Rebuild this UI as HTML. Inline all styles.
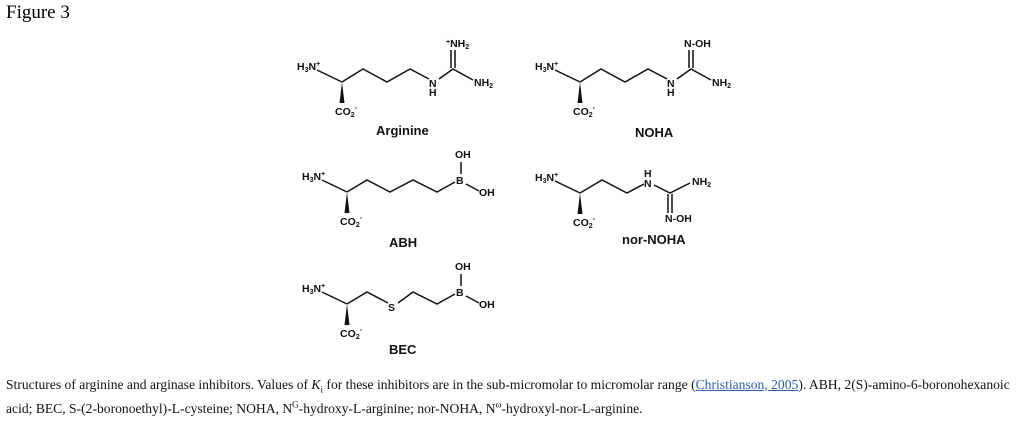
<!DOCTYPE html>
<html><head><meta charset="utf-8"><style>
body{margin:0;background:#fff;width:1024px;height:434px;overflow:hidden;position:relative;font-family:"Liberation Serif",serif;}
.t{position:absolute;left:6px;top:2px;font-size:19px;}
.c{position:absolute;left:6px;top:373px;font-size:13.6px;line-height:24px;color:#111;white-space:nowrap;}
.c sup,.c sub{font-size:9px;line-height:0;}
a{color:#2a5db0;text-decoration:underline;}
svg{position:absolute;left:0;top:0;}
svg text{font-family:"Liberation Sans",sans-serif;font-weight:bold;fill:#111;}
.a{font-size:10.5px;}
.l{font-size:13px;}
line,polyline{stroke:#111;stroke-width:1.5;fill:none;}
</style></head><body>
<div class="t">Figure 3</div>
<svg width="1024" height="434">
<defs>
<g id="head">
<text class="a" x="-45" y="-12">H<tspan font-size="7" dy="2">3</tspan><tspan dy="-2">N</tspan><tspan font-size="7" dy="-4">+</tspan></text>
<line x1="-25" y1="-12" x2="0" y2="0"/>
<polygon points="0,0 -2.5,21 2.5,21" fill="#111"/>
<text class="a" x="-7" y="33">CO<tspan font-size="7" dy="2">2</tspan><tspan font-size="7" dy="-7">-</tspan></text>
</g>
</defs>
<g transform="translate(342,82)">
<use href="#head"/>
<polyline points="0,0 21,-13 45,0 68,-13 87,-3"/>
<text class="a" x="87" y="5">N</text><text class="a" x="87" y="14">H</text>
<polyline points="97,-3 111,-13 131,-2"/>
<line x1="109" y1="-14" x2="109" y2="-32"/><line x1="113" y1="-14" x2="113" y2="-32"/>
<text class="a" x="104" y="-35"><tspan font-size="7" dy="-3">+</tspan><tspan dy="3">NH</tspan><tspan font-size="7" dy="2">2</tspan></text>
<text class="a" x="132" y="4">NH<tspan font-size="7" dy="2">2</tspan></text>
</g>
<text class="l" x="376" y="135">Arginine</text>
<g transform="translate(580,82)">
<use href="#head"/>
<polyline points="0,0 21,-13 45,0 68,-13 87,-3"/>
<text class="a" x="87" y="5">N</text><text class="a" x="87" y="14">H</text>
<polyline points="97,-3 111,-13 131,-2"/>
<line x1="109" y1="-14" x2="109" y2="-32"/><line x1="113" y1="-14" x2="113" y2="-32"/>
<text class="a" x="104" y="-35">N-OH</text>
<text class="a" x="132" y="4">NH<tspan font-size="7" dy="2">2</tspan></text>
</g>
<text class="l" x="635" y="137">NOHA</text>
<g transform="translate(347,192)">
<use href="#head"/>
<polyline points="0,0 20,-12 43,0 66,-12 90,0 108,-10"/>
<text class="a" x="109" y="-8">B</text>
<line x1="114" y1="-18" x2="114" y2="-30"/>
<text class="a" x="108" y="-34">OH</text>
<line x1="119" y1="-8" x2="132" y2="-1"/>
<text class="a" x="132" y="4">OH</text>
</g>
<text class="l" x="389" y="247">ABH</text>
<g transform="translate(347,304)">
<use href="#head"/>
<polyline points="0,0 20,-12 41,-1"/>
<text class="a" x="41" y="7">S</text>
<polyline points="51,-1 66,-12 90,0 108,-10"/>
<text class="a" x="109" y="-8">B</text>
<line x1="114" y1="-18" x2="114" y2="-30"/>
<text class="a" x="108" y="-34">OH</text>
<line x1="119" y1="-8" x2="132" y2="-1"/>
<text class="a" x="132" y="4">OH</text>
</g>
<text class="l" x="389" y="354">BEC</text>
<g transform="translate(580,193)">
<use href="#head"/>
<polyline points="0,0 22,-13 47,0 64,-9"/>
<text class="a" x="64" y="-6">N</text><text class="a" x="64" y="-16">H</text>
<polyline points="74,-8 90,0 110,-10"/>
<text class="a" x="112" y="-8">NH<tspan font-size="7" dy="2">2</tspan></text>
<line x1="88" y1="1" x2="88" y2="20"/><line x1="92" y1="1" x2="92" y2="20"/>
<text class="a" x="85" y="29">N-OH</text>
</g>
<text class="l" x="622" y="244">nor-NOHA</text>
</svg>
<div class="c">Structures of arginine and arginase inhibitors. Values of <i>K</i><sub>i</sub> for these inhibitors are in the sub-micromolar to micromolar range (<a>Christianson, 2005</a>). ABH, 2(S)-amino-6-boronohexanoic<br>acid; BEC, S-(2-boronoethyl)-L-cysteine; NOHA, N<sup>G</sup>-hydroxy-L-arginine; nor-NOHA, N<sup>ω</sup>-hydroxyl-nor-L-arginine.</div>
</body></html>
